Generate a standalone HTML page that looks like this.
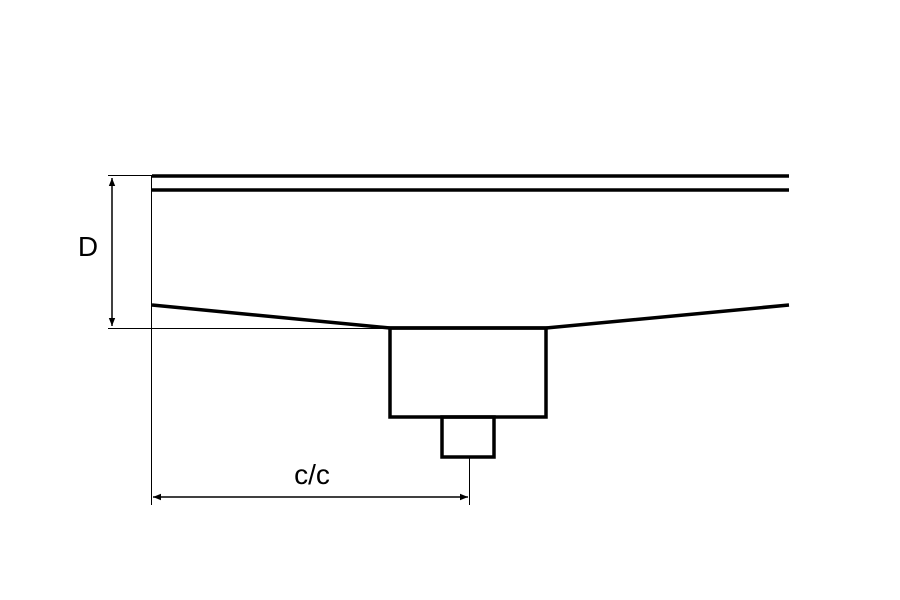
<!DOCTYPE html>
<html><head><style>html,body{margin:0;padding:0;background:#fff}svg{display:block}</style></head>
<body>
<svg width="900" height="600" viewBox="0 0 900 600" xmlns="http://www.w3.org/2000/svg">
<defs>
<marker id="a" viewBox="0 0 10 10" refX="10" refY="5" markerWidth="10" markerHeight="8" orient="auto-start-reverse" markerUnits="userSpaceOnUse"><path d="M0,1 L10,5 L0,9 Z" fill="#000"/></marker>
</defs>
<g stroke="#000" stroke-width="3.5" fill="none">
<line x1="152" y1="176" x2="789" y2="176"/>
<line x1="152" y1="190" x2="789" y2="190"/>
<polyline points="152,305 390,328 546,328 789,305"/>
<rect x="390" y="328" width="156" height="89"/>
<rect x="442" y="417" width="52" height="40"/>
</g>
<g stroke="#000" stroke-width="1" fill="none">
<line x1="151.5" y1="176" x2="151.5" y2="505"/>
<line x1="108" y1="175.5" x2="152" y2="175.5"/>
<line x1="108" y1="328.5" x2="390" y2="328.5"/>
<line x1="469.5" y1="457" x2="469.5" y2="505"/>
</g>
<line x1="112" y1="178" x2="112" y2="326" stroke="#000" stroke-width="1.5" marker-start="url(#a)" marker-end="url(#a)"/>
<line x1="153" y1="497" x2="468" y2="497" stroke="#000" stroke-width="1.5" marker-start="url(#a)" marker-end="url(#a)"/>
<text x="88" y="256" font-family="Liberation Sans, sans-serif" font-size="28" text-anchor="middle">D</text>
<text x="312" y="484" font-family="Liberation Sans, sans-serif" font-size="28" text-anchor="middle">c/c</text>
</svg>
</body></html>
